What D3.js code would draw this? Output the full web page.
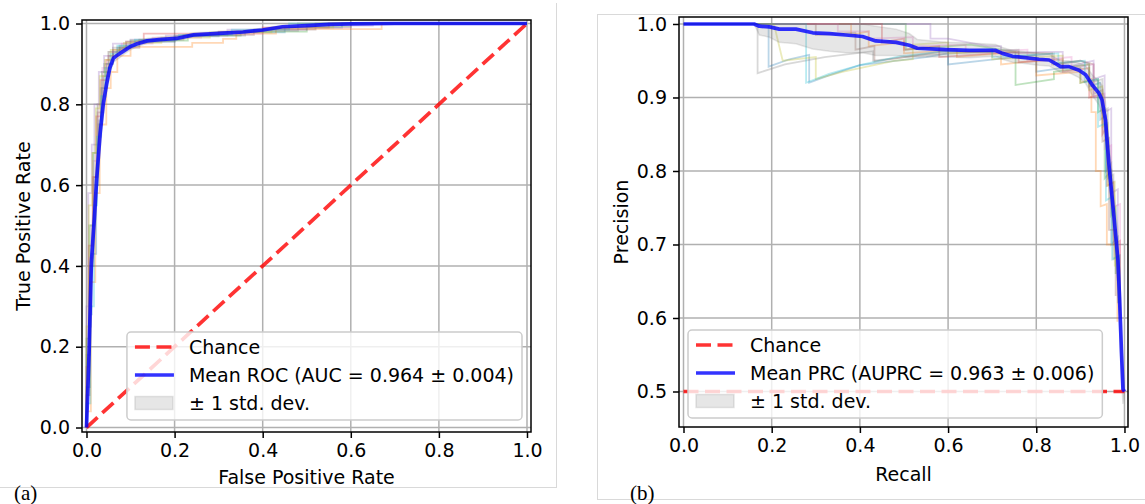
<!DOCTYPE html>
<html>
<head>
<meta charset="utf-8">
<script src="https://cdn.jsdelivr.net/npm/d3@7"></script>
<style>
  body { margin: 0; background: #fff; }
  svg text { font-family: "DejaVu Sans", sans-serif; }
</style>
</head>
<body>
<svg id="figure" width="1145" height="504"></svg>
<script>
// ---- data ----
const foldColors = ['#1f77b4', '#ff7f0e', '#2ca02c', '#d62728', '#9467bd',
  '#8c564b', '#e377c2', '#7f7f7f', '#bcbd22', '#17becf'];

// ROC: mean curve and std
const rocFpr = [0, 0.006, 0.011, 0.018, 0.023, 0.031, 0.038, 0.046, 0.053, 0.061, 0.068, 0.076, 0.09, 0.1,
  0.115, 0.138, 0.165, 0.204, 0.243, 0.31, 0.355, 0.4, 0.445, 0.5, 0.55, 0.6, 0.7, 0.8, 1.0];
const rocTpr = [0, 0.19, 0.407, 0.52, 0.613, 0.728, 0.8, 0.852, 0.89, 0.914, 0.92, 0.926, 0.936, 0.943,
  0.95, 0.957, 0.96, 0.963, 0.972, 0.976, 0.979, 0.984, 0.992, 0.995, 0.998, 0.999, 1.0, 1.0, 1.0];
const rocStd = [0, 0.05, 0.06, 0.06, 0.05, 0.04, 0.03, 0.02, 0.015, 0.01, 0.01, 0.01, 0.008, 0.008,
  0.007, 0.006, 0.006, 0.005, 0.005, 0.004, 0.004, 0.004, 0.003, 0.003, 0.002, 0.001, 0, 0, 0];

// ROC: the ten folds, [fpr, tpr]
const rocFolds = [
  [[0,0],[0,0.1],[0.008,0.1],[0.008,0.28],[0.012,0.28],[0.012,0.43],[0.022,0.43],[0.022,0.6],[0.027,0.6],[0.027,0.75],[0.035,0.75],[0.035,0.84],[0.045,0.84],[0.045,0.9],[0.06,0.9],[0.06,0.93],[0.075,0.93],[0.075,0.945],[0.12,0.945],[0.12,0.955],[0.2,0.955],[0.2,0.968],[0.3,0.968],[0.3,0.978],[0.45,0.978],[0.45,0.99],[0.58,0.99],[0.58,1],[1,1]],
  [[0,0],[0,0.04],[0.01,0.04],[0.01,0.36],[0.02,0.36],[0.02,0.58],[0.03,0.58],[0.03,0.75],[0.045,0.75],[0.045,0.84],[0.055,0.84],[0.055,0.88],[0.07,0.88],[0.07,0.92],[0.1,0.92],[0.1,0.942],[0.24,0.942],[0.24,0.952],[0.31,0.952],[0.31,0.962],[0.34,0.962],[0.34,0.975],[0.43,0.975],[0.43,0.986],[0.67,0.986],[0.67,1],[1,1]],
  [[0,0],[0,0.22],[0.006,0.22],[0.006,0.5],[0.015,0.5],[0.015,0.68],[0.025,0.68],[0.025,0.8],[0.035,0.8],[0.035,0.88],[0.05,0.88],[0.05,0.93],[0.075,0.93],[0.075,0.94],[0.1,0.94],[0.1,0.958],[0.23,0.958],[0.23,0.97],[0.35,0.97],[0.35,0.98],[0.5,0.98],[0.5,0.992],[0.6,0.992],[0.6,1],[1,1]],
  [[0,0],[0,0.15],[0.005,0.15],[0.005,0.45],[0.014,0.45],[0.014,0.62],[0.022,0.62],[0.022,0.77],[0.032,0.77],[0.032,0.86],[0.045,0.86],[0.045,0.91],[0.06,0.91],[0.06,0.935],[0.09,0.935],[0.09,0.955],[0.13,0.955],[0.13,0.975],[0.3,0.975],[0.3,0.98],[0.4,0.98],[0.4,0.99],[0.55,0.99],[0.55,1],[1,1]],
  [[0,0],[0,0.3],[0.004,0.3],[0.004,0.58],[0.012,0.58],[0.012,0.7],[0.018,0.7],[0.018,0.8],[0.028,0.8],[0.028,0.88],[0.04,0.88],[0.04,0.92],[0.06,0.92],[0.06,0.95],[0.1,0.95],[0.1,0.96],[0.18,0.96],[0.18,0.97],[0.32,0.97],[0.32,0.985],[0.5,0.985],[0.5,0.995],[0.65,0.995],[0.65,1],[1,1]],
  [[0,0],[0,0.08],[0.007,0.08],[0.007,0.4],[0.016,0.4],[0.016,0.62],[0.025,0.62],[0.025,0.78],[0.038,0.78],[0.038,0.87],[0.05,0.87],[0.05,0.92],[0.07,0.92],[0.07,0.94],[0.12,0.94],[0.12,0.96],[0.22,0.96],[0.22,0.972],[0.38,0.972],[0.38,0.985],[0.52,0.985],[0.52,1],[1,1]],
  [[0,0],[0,0.12],[0.006,0.12],[0.006,0.42],[0.015,0.42],[0.015,0.66],[0.026,0.66],[0.026,0.8],[0.036,0.8],[0.036,0.89],[0.05,0.89],[0.05,0.93],[0.08,0.93],[0.08,0.95],[0.15,0.95],[0.15,0.965],[0.26,0.965],[0.26,0.975],[0.4,0.975],[0.4,0.99],[0.6,0.99],[0.6,1],[1,1]],
  [[0,0],[0,0.18],[0.008,0.18],[0.008,0.25],[0.01,0.25],[0.01,0.5],[0.018,0.5],[0.018,0.7],[0.028,0.7],[0.028,0.76],[0.032,0.76],[0.032,0.84],[0.04,0.84],[0.04,0.9],[0.06,0.9],[0.06,0.94],[0.09,0.94],[0.09,0.955],[0.2,0.955],[0.2,0.97],[0.36,0.97],[0.36,0.982],[0.48,0.982],[0.48,1],[1,1]],
  [[0,0],[0,0.25],[0.005,0.25],[0.005,0.55],[0.013,0.55],[0.013,0.68],[0.021,0.68],[0.021,0.79],[0.03,0.79],[0.03,0.87],[0.042,0.87],[0.042,0.91],[0.055,0.91],[0.055,0.935],[0.085,0.935],[0.085,0.952],[0.17,0.952],[0.17,0.965],[0.28,0.965],[0.28,0.978],[0.42,0.978],[0.42,0.99],[0.56,0.99],[0.56,1],[1,1]],
  [[0,0],[0,0.06],[0.009,0.06],[0.009,0.3],[0.017,0.3],[0.017,0.55],[0.024,0.55],[0.024,0.72],[0.033,0.72],[0.033,0.82],[0.043,0.82],[0.043,0.89],[0.055,0.89],[0.055,0.925],[0.07,0.925],[0.07,0.945],[0.11,0.945],[0.11,0.96],[0.21,0.96],[0.21,0.972],[0.33,0.972],[0.33,0.985],[0.46,0.985],[0.46,1],[1,1]]
];

// PRC: mean curve and std
const prcRecall = [0, 0.16, 0.172, 0.195, 0.217, 0.255, 0.293, 0.331, 0.368, 0.406, 0.436, 0.482, 0.512, 0.53,
  0.595, 0.648, 0.708, 0.723, 0.746, 0.806, 0.829, 0.844, 0.855, 0.874, 0.897, 0.912, 0.927, 0.942, 0.949,
  0.957, 0.965, 0.976, 0.985, 0.989, 0.993, 0.9966, 1.0];
const prcPrecision = [1, 1, 0.997, 0.996, 0.993, 0.993, 0.988, 0.987, 0.985, 0.983, 0.977, 0.975, 0.971, 0.967,
  0.965, 0.964, 0.964, 0.960, 0.956, 0.952, 0.951, 0.946, 0.942, 0.942, 0.937, 0.931, 0.917, 0.906, 0.897,
  0.869, 0.807, 0.739, 0.68, 0.625, 0.557, 0.503, 0.5];
const prcStd = [0, 0, 0.012, 0.014, 0.018, 0.02, 0.022, 0.024, 0.024, 0.022, 0.02, 0.018, 0.016, 0.012,
  0.01, 0.01, 0.008, 0.008, 0.008, 0.008, 0.008, 0.008, 0.008, 0.008, 0.01, 0.012, 0.014, 0.016, 0.02,
  0.025, 0.03, 0.035, 0.04, 0.04, 0.035, 0.02, 0];

// PRC: the ten folds, [recall, precision]
const prcFolds = [
  [[0,1],[0.193,1],[0.193,0.942],[0.24,0.952],[0.285,0.958],[0.285,0.92],[0.33,0.93],[0.4,0.944],[0.55,0.955],[0.6,0.96],[0.6,0.945],[0.75,0.955],[0.8,0.958],[0.8,0.935],[0.88,0.942],[0.92,0.945],[0.92,0.915],[0.945,0.92],[0.945,0.87],[0.958,0.875],[0.958,0.8],[0.97,0.81],[0.97,0.7],[0.985,0.71],[0.985,0.62]],
  [[0,1],[0.38,1],[0.38,0.985],[0.42,0.99],[0.42,0.97],[0.5,0.975],[0.5,0.96],[0.62,0.965],[0.62,0.955],[0.72,0.96],[0.72,0.945],[0.8,0.95],[0.8,0.93],[0.9,0.935],[0.9,0.92],[0.925,0.925],[0.925,0.88],[0.935,0.88],[0.935,0.8],[0.946,0.8],[0.946,0.752],[0.96,0.755],[0.96,0.7],[0.984,0.7],[0.984,0.595]],
  [[0,1],[0.504,1],[0.504,0.965],[0.56,0.968],[0.65,0.972],[0.753,0.962],[0.753,0.917],[0.84,0.925],[0.84,0.935],[0.9,0.94],[0.9,0.92],[0.94,0.925],[0.94,0.88],[0.955,0.885],[0.955,0.79],[0.97,0.8],[0.97,0.74],[0.98,0.75],[0.98,0.66]],
  [[0,1],[0.45,1],[0.45,0.975],[0.5,0.98],[0.5,0.965],[0.58,0.97],[0.58,0.955],[0.7,0.96],[0.76,0.962],[0.76,0.948],[0.86,0.952],[0.86,0.935],[0.92,0.94],[0.92,0.9],[0.95,0.905],[0.95,0.85],[0.96,0.86],[0.96,0.78],[0.975,0.785],[0.975,0.7],[0.99,0.705],[0.99,0.6]],
  [[0,1],[0.52,1],[0.56,1],[0.56,0.98],[0.6,0.98],[0.69,0.97],[0.72,0.97],[0.72,0.96],[0.82,0.962],[0.86,0.962],[0.86,0.94],[0.93,0.95],[0.93,0.925],[0.955,0.93],[0.955,0.88],[0.97,0.885],[0.97,0.77],[0.985,0.775],[0.985,0.65]],
  [[0,1],[0.3,1],[0.3,0.985],[0.39,0.988],[0.39,0.965],[0.433,0.97],[0.433,0.949],[0.5,0.955],[0.58,0.962],[0.7,0.962],[0.836,0.96],[0.836,0.945],[0.9,0.95],[0.93,0.945],[0.93,0.905],[0.95,0.91],[0.95,0.84],[0.965,0.845],[0.965,0.72],[0.98,0.72],[0.98,0.63]],
  [[0,1],[0.35,1],[0.35,0.99],[0.42,0.99],[0.42,0.98],[0.52,0.982],[0.52,0.97],[0.64,0.972],[0.64,0.962],[0.78,0.965],[0.78,0.95],[0.88,0.955],[0.88,0.94],[0.93,0.945],[0.93,0.9],[0.955,0.905],[0.955,0.83],[0.97,0.835],[0.97,0.75],[0.99,0.755],[0.99,0.64]],
  [[0,1],[0.168,1],[0.168,0.933],[0.23,0.945],[0.32,0.955],[0.43,0.963],[0.43,0.95],[0.55,0.958],[0.7,0.963],[0.76,0.965],[0.76,0.955],[0.84,0.96],[0.84,0.945],[0.9,0.95],[0.92,0.945],[0.92,0.92],[0.95,0.925],[0.95,0.88],[0.962,0.885],[0.962,0.79],[0.975,0.795],[0.975,0.68],[0.99,0.685],[0.99,0.61]],
  [[0,1],[0.205,1],[0.225,0.95],[0.3,0.955],[0.3,0.925],[0.36,0.935],[0.48,0.95],[0.52,0.952],[0.52,0.972],[0.6,0.975],[0.6,0.96],[0.7,0.962],[0.7,0.952],[0.8,0.955],[0.86,0.957],[0.86,0.94],[0.92,0.945],[0.92,0.91],[0.95,0.915],[0.95,0.86],[0.962,0.865],[0.962,0.78],[0.978,0.785],[0.978,0.67]],
  [[0,1],[0.278,1],[0.278,0.92],[0.33,0.932],[0.4,0.944],[0.49,0.956],[0.58,0.962],[0.7,0.966],[0.7,0.955],[0.85,0.96],[0.85,0.947],[0.91,0.95],[0.91,0.921],[0.94,0.925],[0.94,0.86],[0.958,0.865],[0.958,0.76],[0.972,0.765],[0.972,0.68],[0.988,0.685],[0.988,0.62]]
];

const rocTicks = [0, 0.2, 0.4, 0.6, 0.8, 1.0];
const prcXTicks = [0, 0.2, 0.4, 0.6, 0.8, 1.0];
const prcYTicks = [0.5, 0.6, 0.7, 0.8, 0.9, 1.0];

const rocLegend = ['Chance', 'Mean ROC (AUC = 0.964 \u00b1 0.004)', '\u00b1 1 std. dev.'];
const prcLegend = ['Chance', 'Mean PRC (AUPRC = 0.963 \u00b1 0.006)', '\u00b1 1 std. dev.'];

// ---- drawing ----
const svg = d3.select('#figure');
const FONT = 19;
const lineGrey = '#d9d9d9';

svg.append('rect').attr('width', 1145).attr('height', 504).attr('fill', '#fff');

// sub-figure borders
svg.append('line').attr('x1', 556.5).attr('x2', 556.5).attr('y1', 3).attr('y2', 488)
  .attr('stroke', lineGrey).attr('stroke-width', 1);
svg.append('line').attr('x1', 0).attr('x2', 556.5).attr('y1', 487.5).attr('y2', 487.5)
  .attr('stroke', lineGrey).attr('stroke-width', 1);
svg.append('rect').attr('x', 597.5).attr('y', 14.5).attr('width', 600).attr('height', 485)
  .attr('fill', 'none').attr('stroke', lineGrey).attr('stroke-width', 1);

function drawPanel(p) {
  const x = d3.scaleLinear().domain(p.xDomain).range([p.left, p.right]);
  const y = d3.scaleLinear().domain(p.yDomain).range([p.bottom, p.top]);
  const g = svg.append('g');

  const clipId = 'clip-' + p.id;
  g.append('clipPath').attr('id', clipId)
    .append('rect').attr('x', p.left).attr('y', p.top)
    .attr('width', p.right - p.left).attr('height', p.bottom - p.top);

  // grid
  g.append('g').selectAll('line').data(p.xTicks).join('line')
    .attr('x1', d => x(d)).attr('x2', d => x(d))
    .attr('y1', p.top).attr('y2', p.bottom)
    .attr('stroke', '#b0b0b0').attr('stroke-width', 1.5);
  g.append('g').selectAll('line').data(p.yTicks).join('line')
    .attr('y1', d => y(d)).attr('y2', d => y(d))
    .attr('x1', p.left).attr('x2', p.right)
    .attr('stroke', '#b0b0b0').attr('stroke-width', 1.5);

  const plot = g.append('g').attr('clip-path', 'url(#' + clipId + ')');
  const line = d3.line().x(d => x(d[0])).y(d => y(d[1]));

  // folds
  plot.append('g').selectAll('path').data(p.folds).join('path')
    .attr('d', line)
    .attr('fill', 'none')
    .attr('stroke', (d, i) => foldColors[i])
    .attr('stroke-opacity', 0.3)
    .attr('stroke-width', 1.8);

  // std band
  const band = p.meanX.map((v, i) => ({
    x: v,
    lo: Math.max(p.meanY[i] - p.std[i], 0),
    hi: Math.min(p.meanY[i] + p.std[i], 1)
  }));
  plot.append('path')
    .attr('d', d3.area().x(d => x(d.x)).y0(d => y(d.lo)).y1(d => y(d.hi))(band))
    .attr('fill', 'rgba(128,128,128,0.2)')
    .attr('stroke', 'rgba(128,128,128,0.2)')
    .attr('stroke-width', 1.5);

  // chance line
  plot.append('path')
    .attr('d', line(p.chance))
    .attr('fill', 'none')
    .attr('stroke', '#ff0000').attr('stroke-opacity', 0.8)
    .attr('stroke-width', 3.7)
    .attr('stroke-dasharray', '15,6.5');

  // mean curve
  const meanPts = p.meanX.map((v, i) => [v, p.meanY[i]]);
  plot.append('path')
    .attr('d', line(meanPts))
    .attr('fill', 'none')
    .attr('stroke', '#0000ff').attr('stroke-opacity', 0.8)
    .attr('stroke-width', 3.7)
    .attr('stroke-linejoin', 'round');

  // axes
  const xAxis = g.append('g').attr('transform', 'translate(0,' + p.bottom + ')')
    .call(d3.axisBottom(x).tickValues(p.xTicks).tickFormat(d3.format('.1f')).tickSize(6).tickPadding(6));
  const yAxis = g.append('g').attr('transform', 'translate(' + p.left + ',0)')
    .call(d3.axisLeft(y).tickValues(p.yTicks).tickFormat(d3.format('.1f')).tickSize(6).tickPadding(6));
  [xAxis, yAxis].forEach(a => {
    a.select('.domain').remove();
    a.attr('font-size', FONT).attr('font-family', 'DejaVu Sans');
    a.selectAll('line').attr('stroke', '#000').attr('stroke-width', 1.5);
    a.selectAll('text').attr('fill', '#000');
  });

  // frame
  g.append('rect')
    .attr('x', p.left).attr('y', p.top)
    .attr('width', p.right - p.left).attr('height', p.bottom - p.top)
    .attr('fill', 'none').attr('stroke', '#000').attr('stroke-width', 1.5);

  // axis labels
  g.append('text')
    .attr('x', (p.left + p.right) / 2).attr('y', p.xLabelY)
    .attr('text-anchor', 'middle').attr('font-size', FONT)
    .text(p.xLabel);
  g.append('text')
    .attr('transform', 'translate(' + p.yLabelX + ',' + (p.top + p.bottom) / 2 + ') rotate(-90)')
    .attr('text-anchor', 'middle').attr('font-size', FONT)
    .text(p.yLabel);

  // legend
  const lg = g.append('g').attr('font-size', FONT);
  const box = lg.append('rect')
    .attr('rx', 4).attr('ry', 4)
    .attr('fill', '#fff').attr('fill-opacity', 0.8)
    .attr('stroke', '#cccccc').attr('stroke-width', 1.5);
  const rows = [15, 43, 71];
  const texts = lg.selectAll('text.lbl').data(p.legend).join('text')
    .attr('class', 'lbl')
    .attr('x', 62).attr('y', (d, i) => rows[i]).attr('dy', '0.35em')
    .text(d => d);
  let maxW = 0;
  texts.each(function () { maxW = Math.max(maxW, this.getComputedTextLength()); });
  const boxW = 62 + maxW + 8, boxH = 88;
  box.attr('width', boxW).attr('height', boxH);
  lg.append('line').attr('x1', 8).attr('x2', 47).attr('y1', rows[0]).attr('y2', rows[0])
    .attr('stroke', '#ff0000').attr('stroke-opacity', 0.8).attr('stroke-width', 3.7)
    .attr('stroke-dasharray', '15,6.5');
  lg.append('line').attr('x1', 8).attr('x2', 47).attr('y1', rows[1]).attr('y2', rows[1])
    .attr('stroke', '#0000ff').attr('stroke-opacity', 0.8).attr('stroke-width', 3.7);
  lg.append('rect').attr('x', 8).attr('y', rows[2] - 6.5).attr('width', 38).attr('height', 13)
    .attr('fill', 'rgba(128,128,128,0.2)').attr('stroke', 'rgba(128,128,128,0.2)').attr('stroke-width', 1.5);
  const lx = p.legendSide === 'right' ? p.right - 9 - boxW : p.left + 9;
  lg.attr('transform', 'translate(' + lx + ',' + (p.bottom - p.legendGap - boxH) + ')');

  // panel tag
  svg.append('text')
    .attr('x', p.tagX).attr('y', 500)
    .style('font-family', '"Liberation Serif", serif')
    .attr('font-size', 21)
    .text(p.tag);
}

drawPanel({
  id: 'roc', left: 82, right: 531, top: 20, bottom: 432,
  xDomain: [-0.0102, 1.0091], yDomain: [-0.0111, 1.0087],
  xTicks: rocTicks, yTicks: rocTicks,
  folds: rocFolds, meanX: rocFpr, meanY: rocTpr, std: rocStd,
  chance: [[0, 0], [1, 1]],
  xLabel: 'False Positive Rate', yLabel: 'True Positive Rate',
  xLabelY: 484, yLabelX: 30,
  legend: rocLegend, legendSide: 'right', legendGap: 12,
  tag: '(a)', tagX: 14
});

drawPanel({
  id: 'prc', left: 679, right: 1128, top: 17, bottom: 427,
  xDomain: [-0.0102, 1.008], yDomain: [0.4517, 1.0095],
  xTicks: prcXTicks, yTicks: prcYTicks,
  folds: prcFolds, meanX: prcRecall, meanY: prcPrecision, std: prcStd,
  chance: [[0, 0.5], [1, 0.5]],
  xLabel: 'Recall', yLabel: 'Precision',
  xLabelY: 481, yLabelX: 628,
  legend: prcLegend, legendSide: 'left', legendGap: 9,
  tag: '(b)', tagX: 630
});
</script>
</body>
</html>
